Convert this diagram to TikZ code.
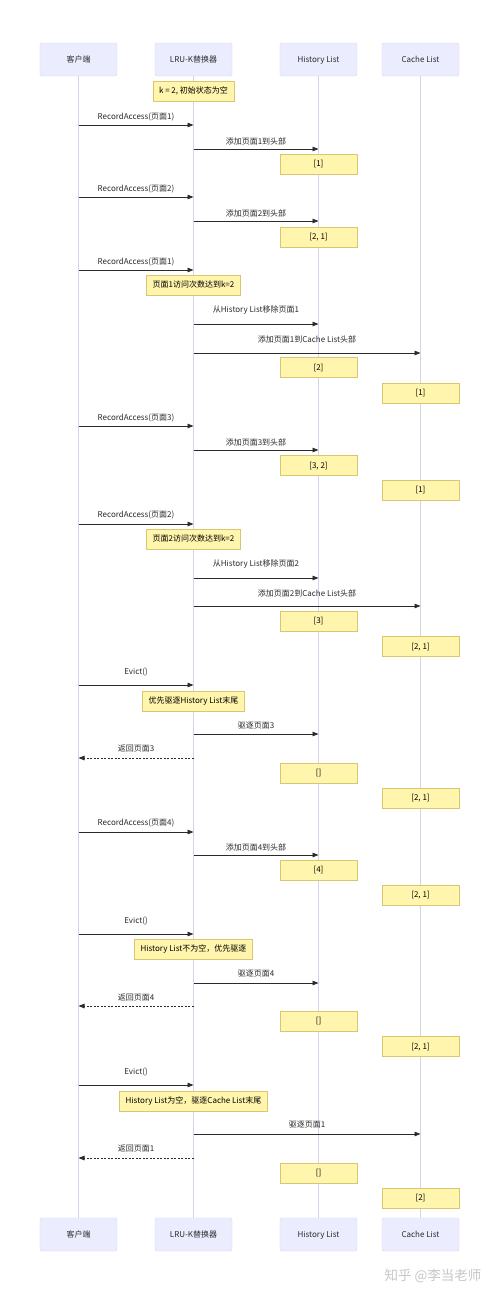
\documentclass[tikz,border=0pt]{standalone}
\usepackage{fontspec}
\setmainfont{Noto Sans CJK SC}
\usetikzlibrary{arrows.meta}
\definecolor{actfill}{HTML}{ECECFF}
\definecolor{actline}{HTML}{D6D6F0}
\definecolor{notefill}{HTML}{FFF5AD}
\definecolor{noteline}{HTML}{D8C670}
\definecolor{lifeline}{HTML}{D4D4E6}
\definecolor{ink}{HTML}{2B2B2B}
\def\sendmsg[#1](#2)(#3)(#4:#5)#6{\draw[#1] (#2 |- 0,#4) -- node[lbl, yshift=#5pt] {#6} (#3 |- 0,#4);}
\tikzset{
	actor/.style={draw=actline, fill=actfill, rounded corners=1.5pt, minimum width=77pt, minimum height=33pt, text height=6pt, text depth=1pt, font=\fontsize{8}{10}\selectfont, text=ink},
	note/.style={draw=noteline, fill=notefill, minimum width=77pt, minimum height=20pt, inner xsep=6pt, inner ysep=0pt, text height=6pt, text depth=1pt, font=\fontsize{8}{10}\selectfont, text=black},
	msg/.style={draw=ink, line width=0.8pt, -{Triangle[length=6pt,width=4.5pt]}},
	reply/.style={msg, dash pattern=on 2pt off 1.5pt},
	lbl/.style={font=\fontsize{8}{10}\selectfont, text=ink, inner sep=0pt},
	life/.style={draw=lifeline, line width=1pt}
}
\begin{document}
\begin{tikzpicture}[x=1pt,y=-1pt]
		%%%%% START %%%%%
		\useasboundingbox (0,0) rectangle (500,1296);
		\fill[white] (0,0) rectangle (500,1296);
		
		% participants
		\node[actor] (ct) at (78.5,59.5) {客户端};
		\node[actor] (lt) at (193.5,59.5) {LRU-K替换器};
		\node[actor] (ht) at (318.5,59.5) {History List};
		\node[actor] (kt) at (420.5,59.5) {Cache List};
		\node[actor] (cb) at (78.5,1234.5) {客户端};
		\node[actor] (lb) at (193.5,1234.5) {LRU-K替换器};
		\node[actor] (hb) at (318.5,1234.5) {History List};
		\node[actor] (kb) at (420.5,1234.5) {Cache List};
		
		\draw[life] (ct.south) -- (cb.north);
		\draw[life] (lt.south) -- (lb.north);
		\draw[life] (ht.south) -- (hb.north);
		\draw[life] (kt.south) -- (kb.north);
		
		\node[note] (n1) at (193.5,91) {k = 2, 初始状态为空};
		
		% page 1
		\sendmsg[msg](ct)(lt)(125:8){RecordAccess(页面1)}
		\sendmsg[msg](lt)(ht)(149:8){添加页面1到头部}
		\node[note] (h1) at (318.5,164) {[1]};
		
		% page 2
		\sendmsg[msg](ct)(lt)(197:8){RecordAccess(页面2)}
		\sendmsg[msg](lt)(ht)(221:8){添加页面2到头部}
		\node[note] (h2) at (318.5,237) {[2, 1]};
		
		% page 1 again
		\sendmsg[msg](ct)(lt)(270:8){RecordAccess(页面1)}
		\node[note] (n2) at (193.5,285) {页面1访问次数达到k=2};
		\sendmsg[msg](lt)(ht)(324:14){从History List移除页面1}
		\sendmsg[msg](lt)(kt)(353:14){添加页面1到Cache List头部}
		\node[note] (h3) at (318.5,367.5) {[2]};
		\node[note] (k1) at (420.5,393) {[1]};
		
		% page 3
		\sendmsg[msg](ct)(lt)(426:8){RecordAccess(页面3)}
		\sendmsg[msg](lt)(ht)(450:8){添加页面3到头部}
		\node[note] (h4) at (318.5,465.5) {[3, 2]};
		\node[note] (k2) at (420.5,490) {[1]};
		
		% page 2 again
		\sendmsg[msg](ct)(lt)(524:9){RecordAccess(页面2)}
		\node[note] (n3) at (193.5,539) {页面2访问次数达到k=2};
		\sendmsg[msg](lt)(ht)(578:14){从History List移除页面2}
		\sendmsg[msg](lt)(kt)(606:13){添加页面2到Cache List头部}
		\node[note] (h5) at (318.5,621) {[3]};
		\node[note] (k3) at (420.5,646.5) {[2, 1]};
		
		% evict 1
		\sendmsg[msg](ct)(lt)(685:13){Evict()}
		\node[note] (n4) at (193.5,701) {优先驱逐History List末尾};
		\sendmsg[msg](lt)(ht)(734:8){驱逐页面3}
		\sendmsg[reply](lt)(ct)(758:9){返回页面3}
		\node[note] (h6) at (318.5,773) {[]};
		\node[note] (k4) at (420.5,798) {[2, 1]};
		
		% page 4
		\sendmsg[msg](ct)(lt)(832:9){RecordAccess(页面4)}
		\sendmsg[msg](lt)(ht)(855:8){添加页面4到头部}
		\node[note] (h7) at (318.5,870) {[4]};
		\node[note] (k5) at (420.5,895) {[2, 1]};
		
		% evict 2
		\sendmsg[msg](ct)(lt)(934:13){Evict()}
		\node[note] (n5) at (193.5,949) {History List不为空，优先驱逐};
		\sendmsg[msg](lt)(ht)(983:9){驱逐页面4}
		\sendmsg[reply](lt)(ct)(1006:8){返回页面4}
		\node[note] (h8) at (318.5,1021) {[]};
		\node[note] (k6) at (420.5,1046.5) {[2, 1]};
		
		% evict 3
		\sendmsg[msg](ct)(lt)(1085:13){Evict()}
		\node[note] (n6) at (193.5,1101) {History List为空，驱逐Cache List末尾};
		\sendmsg[msg](lt)(kt)(1134:9){驱逐页面1}
		\sendmsg[reply](lt)(ct)(1158:9){返回页面1}
		\node[note] (h9) at (318.5,1173) {[]};
		\node[note] (k7) at (420.5,1198) {[2]};
		
		\node[text=black!22, font=\fontsize{13.5}{15}\selectfont] (wm) at (433,1276) {知乎 @李当老师};
		%%%%% END %%%%%
\end{tikzpicture}
\end{document}
